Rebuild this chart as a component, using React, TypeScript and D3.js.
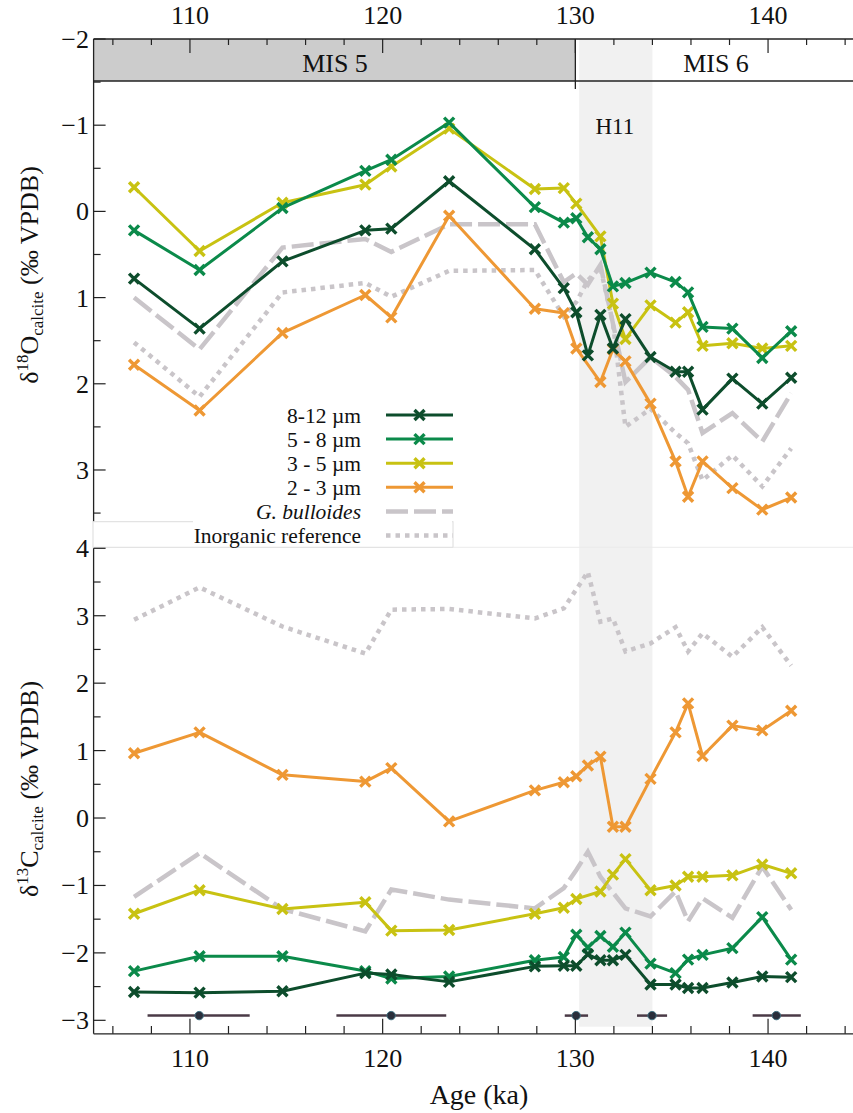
import React from "react";
import * as d3 from "d3";

// sample ages (ka) shared by the size fractions
const ages = [107.1, 110.5, 114.8, 119.1, 120.45, 123.45, 127.9, 129.4, 130.05, 130.65,
  131.3, 131.95, 132.6, 133.9, 135.2, 135.85, 136.6, 138.15, 139.7, 141.2];

// d18O (permil VPDB), null = no sample
const d18O_8_12 = [0.78, 1.36, 0.58, 0.22, 0.2, -0.35, 0.44, 0.89, 1.17, 1.67, 1.2, 1.59, 1.25, 1.69, 1.86, 1.86, 2.3, 1.94, 2.23, 1.93];
const d18O_5_8 = [0.22, 0.68, -0.04, -0.47, -0.6, -1.03, -0.05, 0.13, 0.08, 0.3, 0.44, 0.87, 0.83, 0.71, 0.82, 0.94, 1.34, 1.36, 1.7, 1.39];
const d18O_3_5 = [-0.28, 0.46, -0.1, -0.31, -0.52, -0.96, -0.26, -0.27, -0.09, null, 0.29, 1.07, 1.48, 1.09, 1.29, 1.17, 1.56, 1.53, 1.59, 1.56];
const d18O_2_3 = [1.78, 2.31, 1.41, 0.97, 1.23, 0.05, 1.13, 1.18, 1.59, null, 1.98, 1.6, 1.74, 2.23, 2.9, 3.31, 2.9, 3.21, 3.46, 3.32];
const d18O_bull = [1.0, 1.6, 0.42, 0.32, 0.47, 0.15, 0.15, 0.82, 0.72, 0.85, 0.62, null, 1.98, 1.69, 1.92, 2.07, 2.57, 2.34, 2.67, 2.11];
const d18O_inorg = [1.52, 2.15, 0.94, 0.83, 0.99, 0.69, 0.68, 1.22, 1.05, 0.8, 0.65, 1.3, 2.5, 2.29, 2.57, 2.69, 3.12, 2.83, 3.19, 2.75];

// d13C (permil VPDB)
const d13C_8_12 = [-2.58, -2.59, -2.57, -2.3, -2.32, -2.43, -2.2, -2.19, -2.19, -2.02, -2.11, -2.11, -2.03, -2.47, -2.47, -2.52, -2.52, -2.44, -2.35, -2.36];
const d13C_5_8 = [-2.27, -2.05, -2.05, -2.27, -2.38, -2.35, -2.11, -2.06, -1.73, -1.92, -1.75, -1.91, -1.7, -2.16, -2.3, -2.1, -2.03, -1.93, -1.47, -2.1];
const d13C_3_5 = [-1.42, -1.07, -1.35, -1.25, -1.67, -1.66, -1.42, -1.33, -1.2, null, -1.09, -0.84, -0.61, -1.07, -1.0, -0.87, -0.87, -0.85, -0.69, -0.82];
const d13C_2_3 = [0.96, 1.27, 0.64, 0.54, 0.74, -0.05, 0.41, 0.53, 0.62, 0.78, 0.91, -0.13, -0.13, 0.58, 1.27, 1.7, 0.92, 1.37, 1.3, 1.59];
const d13C_bull = [-1.17, -0.52, -1.35, -1.68, -1.06, -1.21, -1.34, -1.04, -0.77, -0.5, -0.87, null, -1.34, -1.46, -1.09, -1.53, -1.19, -1.48, -0.72, -1.36];
const d13C_inorg = [2.94, 3.42, 2.84, 2.44, 3.09, 3.1, 2.96, 3.11, null, 3.65, 2.91, 2.96, 2.47, 2.59, 2.83, 2.47, 2.74, 2.39, 2.83, 2.26];

// age control points with uncertainty
const tieAges = [110.48, 120.44, 130.04, 133.98, 140.43];
const tieLow = [107.8, 117.6, 129.45, 133.2, 139.2];
const tieHigh = [113.1, 123.3, 130.66, 134.76, 141.7];

const misLabels = ["MIS 5", "MIS 6"];
const misBounds = [105, 130, 145];
const h11 = [130.2, 134.0];

const legendLabels = ["8-12 µm", "5 - 8 µm", "3 - 5 µm", "2 - 3 µm", "G. bulloides", "Inorganic reference"];

const colors = {
  c8: "#0d4d2c",
  c5: "#0b8a4a",
  c3: "#c8c212",
  c2: "#ee9834",
  grey: "#c9c5c9",
};

const FONT = "Liberation Serif, Times New Roman, serif";

type Pt = { a: number; v: number };
const pts = (vals: (number | null)[]): Pt[] =>
  ages.map((a, i) => ({ a, v: vals[i] as number })).filter((d) => d.v !== null && d.v !== undefined);

export default function App() {
  const W = 853, H = 1113;
  const x = d3.scaleLinear().domain([105, 145]).range([93.6, 864.4]);
  const yT = d3.scaleLinear().domain([-2, 3.6]).range([39, 521.7]);
  const yB = d3.scaleLinear().domain([-3.2, 4]).range([1033.8, 548.3]);
  const left = x(105);

  const lineT = d3.line<Pt>().x((d) => x(d.a)).y((d) => yT(d.v));
  const lineB = d3.line<Pt>().x((d) => x(d.a)).y((d) => yB(d.v));

  const marker = (cx: number, cy: number, col: string, k: string) => (
    <path key={k} d={`M${cx - 5},${cy - 5}L${cx + 5},${cy + 5}M${cx - 5},${cy + 5}L${cx + 5},${cy - 5}`}
      stroke={col} strokeWidth={3.4} fill="none" />
  );

  const sizeSeries = (vals: (number | null)[], col: string, yS: d3.ScaleLinear<number, number>, line: d3.Line<Pt>, key: string) => {
    const p = pts(vals);
    return (
      <g key={key}>
        <path d={line(p) || ""} fill="none" stroke={col} strokeWidth={3} strokeLinejoin="round" />
        {p.map((d, i) => marker(x(d.a), yS(d.v), col, key + i))}
      </g>
    );
  };

  const greySeries = (vals: (number | null)[], dash: string, line: d3.Line<Pt>, key: string) => (
    <path key={key} d={line(pts(vals)) || ""} fill="none" stroke={colors.grey} strokeWidth={4.5} strokeDasharray={dash} />
  );

  const DASH = "22,6";
  const DOT = "4.5,5";

  const majorX = d3.range(110, 141, 10);
  const minorX = d3.range(106, 145, 2).filter((v) => v % 10 !== 0);

  const topMajorY = d3.range(-2, 3.01, 1);
  const topMinorY = d3.range(-1.5, 3.6, 1);
  const botMajorY = d3.range(-3, 4.01, 1);
  const botMinorY = d3.range(-2.5, 3.6, 1);

  const fmt = (v: number) => (v < 0 ? "\u2212" + Math.abs(v) : String(v));

  const legendX = 361, legendLine0 = 386, legendLine1 = 453;
  const legendY0 = 415, legendDy = 24.1;
  const legendCols = [colors.c8, colors.c5, colors.c3, colors.c2];

  return (
    <svg width={W} height={H} style={{ position: "absolute", left: 0, top: 0, background: "#fff", fontFamily: FONT }}>
      {/* MIS box */}
      <rect x={x(misBounds[0])} y={39} width={x(misBounds[1]) - x(misBounds[0])} height={42} fill="#cccccc" />
      <rect x={x(misBounds[1])} y={39} width={x(misBounds[2]) - x(misBounds[1])} height={42} fill="#fff" />

      {/* H11 band */}
      <rect x={x(h11[0])} y={39} width={x(h11[1]) - x(h11[0])} height={1026.7 - 39} fill="#f1f1f1" />
      <text x={x(132.05)} y={134} fontSize={23} textAnchor="middle" fill="#111">H11</text>

      <line x1={left} x2={W} y1={81} y2={81} stroke="#222" strokeWidth={1.3} />
      <line x1={x(130)} x2={x(130)} y1={39} y2={89} stroke="#222" strokeWidth={1.3} />
      {misLabels.map((t, i) => (
        <text key={t} x={i === 0 ? 335 : 716} y={72} fontSize={26} textAnchor="middle" fill="#111">{t}</text>
      ))}

      {/* top axis */}
      <line x1={left} x2={W} y1={39} y2={39} stroke="#222" strokeWidth={1.3} />
      {majorX.map((v) => (
        <g key={"tm" + v}>
          <line x1={x(v)} x2={x(v)} y1={39} y2={53} stroke="#222" strokeWidth={1.2} />
          <text x={x(v)} y={24} fontSize={26} textAnchor="middle" fill="#111">{v}</text>
        </g>
      ))}
      {minorX.map((v) => (
        <line key={"tn" + v} x1={x(v)} x2={x(v)} y1={39} y2={45} stroke="#222" strokeWidth={1.2} />
      ))}

      {/* top y axis */}
      <line x1={left} x2={left} y1={39} y2={521.7} stroke="#222" strokeWidth={1.3} />
      {topMajorY.map((v) => (
        <g key={"ty" + v}>
          <line x1={left} x2={left + 12} y1={yT(v)} y2={yT(v)} stroke="#222" strokeWidth={1.2} />
          <text x={89} y={yT(v) + 9} fontSize={26} textAnchor="end" fill="#111">{fmt(v)}</text>
        </g>
      ))}
      {topMinorY.map((v) => (
        <line key={"tyn" + v} x1={left} x2={left + 7} y1={yT(v)} y2={yT(v)} stroke="#222" strokeWidth={1.2} />
      ))}
      <text transform={`translate(38,275) rotate(-90)`} fontSize={26} textAnchor="middle" fill="#111">
        δ<tspan fontSize={17} dy={-10}>18</tspan><tspan dy={10}>O</tspan><tspan fontSize={17} dy={5}>calcite</tspan><tspan dy={-5}> (‰ VPDB)</tspan>
      </text>

      {/* top series */}
      {greySeries(d18O_inorg, DOT, lineT, "ti")}
      {greySeries(d18O_bull, DASH, lineT, "tb")}
      {sizeSeries(d18O_2_3, colors.c2, yT, lineT, "t2")}
      {sizeSeries(d18O_3_5, colors.c3, yT, lineT, "t3")}
      {sizeSeries(d18O_5_8, colors.c5, yT, lineT, "t5")}
      {sizeSeries(d18O_8_12, colors.c8, yT, lineT, "t8")}

      {/* legend */}
      <rect x={93} y={521.7} width={360} height={25.6} fill="#fff" stroke="#dcdcdc" strokeWidth={1} />
      <rect x={193} y={520} width={259} height={3} fill="#fff" />
      <line x1={453} x2={W} y1={547.3} y2={547.3} stroke="#ececec" strokeWidth={1} />
      {legendLabels.map((t, i) => {
        const ly = legendY0 + i * legendDy;
        return (
          <g key={"lg" + i}>
            <text x={legendX} y={ly + 7.5} fontSize={21.5} textAnchor="end" fill="#111" fontStyle={i === 4 ? "italic" : "normal"}>{t}</text>
            {i < 4 ? (
              <g>
                <line x1={legendLine0} x2={legendLine1} y1={ly} y2={ly} stroke={legendCols[i]} strokeWidth={3} />
                {marker((legendLine0 + legendLine1) / 2, ly, legendCols[i], "lm" + i)}
              </g>
            ) : (
              <line x1={legendLine0} x2={legendLine1} y1={ly} y2={ly} stroke={colors.grey} strokeWidth={4.5} strokeDasharray={i === 4 ? DASH : DOT} />
            )}
          </g>
        );
      })}

      {/* bottom y axis */}
      <line x1={left} x2={left} y1={548.3} y2={1033.8} stroke="#222" strokeWidth={1.3} />
      {botMajorY.map((v) => (
        <g key={"by" + v}>
          <line x1={left} x2={left + 12} y1={yB(v)} y2={yB(v)} stroke="#222" strokeWidth={1.2} />
          <text x={89} y={yB(v) + 9} fontSize={26} textAnchor="end" fill="#111">{fmt(v)}</text>
        </g>
      ))}
      {botMinorY.map((v) => (
        <line key={"byn" + v} x1={left} x2={left + 7} y1={yB(v)} y2={yB(v)} stroke="#222" strokeWidth={1.2} />
      ))}
      <text transform={`translate(38,789) rotate(-90)`} fontSize={26} textAnchor="middle" fill="#111">
        δ<tspan fontSize={17} dy={-10}>13</tspan><tspan dy={10}>C</tspan><tspan fontSize={17} dy={5}>calcite</tspan><tspan dy={-5}> (‰ VPDB)</tspan>
      </text>

      {/* bottom series */}
      {greySeries(d13C_inorg, DOT, lineB, "bi")}
      {greySeries(d13C_bull, DASH, lineB, "bb")}
      {sizeSeries(d13C_2_3, colors.c2, yB, lineB, "b2")}
      {sizeSeries(d13C_3_5, colors.c3, yB, lineB, "b3")}
      {sizeSeries(d13C_5_8, colors.c5, yB, lineB, "b5")}
      {sizeSeries(d13C_8_12, colors.c8, yB, lineB, "b8")}

      {/* age tie points */}
      {tieAges.map((a, i) => (
        <g key={"tie" + i}>
          <line x1={x(tieLow[i])} x2={x(tieHigh[i])} y1={yB(-2.93)} y2={yB(-2.93)} stroke="#4a3a46" strokeWidth={2.5} />
          <circle cx={x(a)} cy={yB(-2.93)} r={4.2} fill="#2a2f3c" stroke="#3f7080" strokeWidth={1} />
        </g>
      ))}

      {/* bottom axis */}
      <line x1={left} x2={W} y1={1033.8} y2={1033.8} stroke="#222" strokeWidth={1.3} />
      {majorX.map((v) => (
        <g key={"bm" + v}>
          <line x1={x(v)} x2={x(v)} y1={1033.8} y2={1018.8} stroke="#222" strokeWidth={1.2} />
          <text x={x(v)} y={1067} fontSize={26} textAnchor="middle" fill="#111">{v}</text>
        </g>
      ))}
      {minorX.map((v) => (
        <line key={"bn" + v} x1={x(v)} x2={x(v)} y1={1033.8} y2={1026} stroke="#222" strokeWidth={1.2} />
      ))}
      <text x={479} y={1104} fontSize={28} textAnchor="middle" fill="#111">Age (ka)</text>
    </svg>
  );
}
